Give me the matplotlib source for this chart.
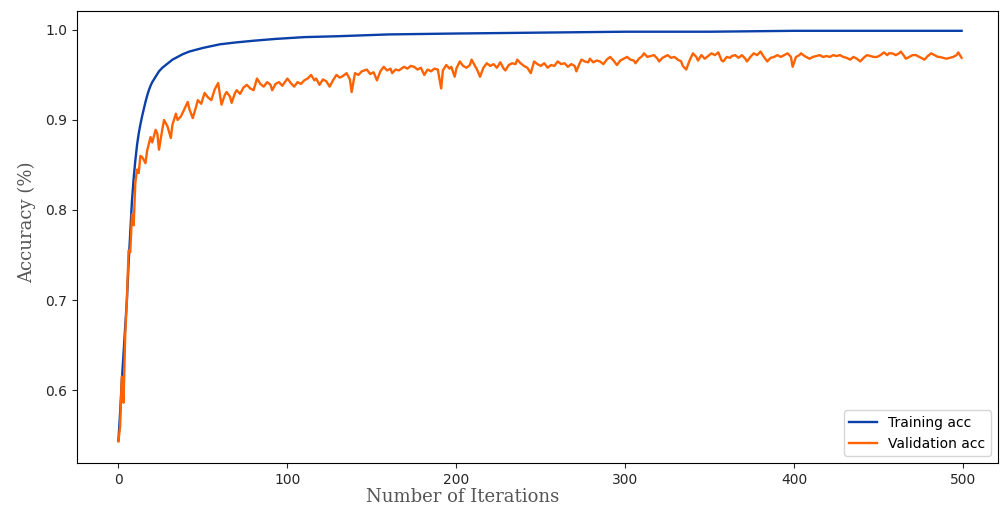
import matplotlib.pyplot as plt

# (iteration, accuracy)
train_points = [
    (0, 0.544), (1, 0.575), (2, 0.61), (3, 0.64), (4, 0.67), (5, 0.70),
    (6, 0.74), (7, 0.775), (8, 0.81), (9, 0.835), (10, 0.855), (11, 0.872),
    (12, 0.885), (13, 0.895), (14, 0.904), (15, 0.912), (16, 0.92),
    (17, 0.927), (18, 0.933), (19, 0.938), (20, 0.942), (21, 0.945),
    (22, 0.948), (23, 0.951), (24, 0.954), (26, 0.958), (28, 0.961),
    (30, 0.964), (32, 0.967), (35, 0.970), (38, 0.973), (42, 0.976),
    (46, 0.978), (50, 0.980), (55, 0.982), (60, 0.984), (69, 0.986),
    (80, 0.988), (93, 0.990), (110, 0.992), (130, 0.993), (160, 0.995),
    (200, 0.996), (250, 0.997), (300, 0.998), (350, 0.998), (400, 0.999),
    (450, 0.999), (499, 0.999),
]

val_points = [
    (0, 0.543), (1, 0.56), (2, 0.615), (3, 0.586), (4, 0.66), (5, 0.70),
    (6, 0.755), (7, 0.753), (8, 0.795), (9, 0.783), (10, 0.83), (11, 0.845),
    (12, 0.841), (13, 0.86), (14, 0.859), (16, 0.852), (17, 0.866),
    (19, 0.881), (20, 0.875), (22, 0.889), (23, 0.885), (24, 0.867),
    (26, 0.89), (27, 0.900), (29, 0.893), (31, 0.880), (32, 0.895),
    (34, 0.907), (35, 0.90), (37, 0.904), (39, 0.912), (41, 0.920),
    (42, 0.912), (44, 0.902), (46, 0.915), (47, 0.922), (49, 0.918),
    (51, 0.930), (53, 0.925), (55, 0.922), (57, 0.934), (59, 0.941),
    (61, 0.917), (63, 0.928), (64, 0.931), (66, 0.926), (67, 0.919),
    (69, 0.930), (70, 0.933), (72, 0.929), (74, 0.936), (76, 0.939),
    (78, 0.935), (80, 0.933), (82, 0.946), (84, 0.940), (86, 0.937),
    (88, 0.942), (90, 0.939), (91, 0.933), (93, 0.940), (95, 0.942),
    (97, 0.938), (100, 0.946), (102, 0.941), (104, 0.937), (106, 0.942),
    (108, 0.940), (110, 0.944), (112, 0.946), (114, 0.950), (116, 0.944),
    (117, 0.946), (119, 0.939), (121, 0.945), (123, 0.943), (125, 0.937),
    (127, 0.944), (129, 0.950), (131, 0.947), (133, 0.949), (135, 0.952),
    (137, 0.945), (138, 0.931), (140, 0.952), (142, 0.950), (144, 0.954),
    (147, 0.956), (149, 0.951), (151, 0.953), (153, 0.944), (155, 0.954),
    (157, 0.959), (159, 0.955), (161, 0.957), (162, 0.952), (164, 0.956),
    (166, 0.955), (169, 0.959), (171, 0.957), (173, 0.960), (175, 0.959),
    (177, 0.956), (179, 0.958), (181, 0.950), (183, 0.956), (185, 0.954),
    (187, 0.957), (189, 0.956), (191, 0.935), (192, 0.955), (194, 0.961),
    (196, 0.957), (197, 0.959), (199, 0.948), (200, 0.957), (202, 0.965),
    (204, 0.960), (206, 0.958), (208, 0.961), (209, 0.967), (211, 0.960),
    (212, 0.957), (214, 0.948), (216, 0.958), (218, 0.963), (220, 0.960),
    (222, 0.962), (224, 0.958), (226, 0.964), (228, 0.957), (229, 0.955),
    (231, 0.961), (233, 0.963), (235, 0.962), (236, 0.967), (238, 0.963),
    (240, 0.960), (242, 0.958), (244, 0.952), (246, 0.965), (248, 0.962),
    (250, 0.960), (252, 0.963), (254, 0.958), (256, 0.961), (258, 0.960),
    (260, 0.965), (262, 0.962), (264, 0.963), (266, 0.959), (268, 0.962),
    (270, 0.960), (271, 0.954), (273, 0.963), (274, 0.967), (276, 0.965),
    (278, 0.964), (279, 0.968), (281, 0.964), (283, 0.966), (285, 0.965),
    (287, 0.962), (289, 0.967), (291, 0.970), (293, 0.966), (295, 0.961),
    (297, 0.966), (299, 0.968), (301, 0.970), (303, 0.967), (305, 0.966),
    (306, 0.963), (308, 0.968), (310, 0.971), (311, 0.974), (313, 0.970),
    (315, 0.971), (317, 0.972), (319, 0.968), (320, 0.965), (322, 0.969),
    (324, 0.971), (325, 0.972), (327, 0.969), (329, 0.970), (331, 0.967),
    (333, 0.965), (334, 0.960), (336, 0.956), (338, 0.966), (340, 0.974),
    (342, 0.970), (343, 0.966), (345, 0.972), (347, 0.968), (349, 0.971),
    (351, 0.974), (353, 0.972), (355, 0.975), (357, 0.966), (358, 0.965),
    (360, 0.970), (362, 0.969), (363, 0.971), (365, 0.972), (367, 0.969),
    (369, 0.972), (371, 0.968), (372, 0.965), (374, 0.970), (376, 0.974),
    (378, 0.972), (380, 0.976), (382, 0.970), (384, 0.965), (386, 0.969),
    (388, 0.970), (390, 0.972), (392, 0.970), (394, 0.972), (396, 0.974),
    (398, 0.970), (399, 0.959), (401, 0.970), (403, 0.972), (404, 0.974),
    (406, 0.971), (408, 0.969), (409, 0.968), (411, 0.970), (413, 0.971),
    (415, 0.972), (417, 0.970), (419, 0.971), (421, 0.970), (423, 0.972),
    (425, 0.971), (427, 0.972), (429, 0.970), (431, 0.969), (433, 0.967),
    (435, 0.970), (437, 0.968), (439, 0.965), (441, 0.969), (443, 0.972),
    (445, 0.971), (447, 0.970), (449, 0.970), (451, 0.972), (453, 0.975),
    (455, 0.972), (456, 0.974), (458, 0.974), (460, 0.972), (462, 0.974),
    (463, 0.976), (465, 0.971), (466, 0.968), (468, 0.970), (470, 0.972),
    (472, 0.972), (474, 0.970), (476, 0.968), (477, 0.967), (479, 0.971),
    (481, 0.974), (483, 0.972), (485, 0.970), (486, 0.970), (488, 0.969),
    (490, 0.968), (492, 0.969), (494, 0.970), (496, 0.972), (497, 0.975),
    (499, 0.969),
]

x_ticks = [0, 100, 200, 300, 400, 500]
y_ticks = [0.6, 0.7, 0.8, 0.9, 1.0]

train_x, train_y = zip(*train_points)
val_x, val_y = zip(*val_points)

fig = plt.figure(figsize=(10.07, 5.12), dpi=100)
ax = fig.add_axes([0.0765, 0.0957, 0.9145, 0.8828])

ax.plot(train_x, train_y, color="#0a40a8", lw=1.7, label="Training acc")
ax.plot(val_x, val_y, color="#ff6200", lw=1.7, label="Validation acc")

ax.set_xlim(-24.5, 520.5)
ax.set_ylim(0.519, 1.021)
ax.set_xticks(x_ticks)
ax.set_yticks(y_ticks)
ax.tick_params(labelsize=10, colors="#262626", labelcolor="#262626")

ax.legend(loc="lower right", fontsize=10)

# axis titles sit off-centre in the original, so place them on the figure
fig.text(463 / 1007, 0.029, "Number of Iterations", ha="center", va="center",
         family="DejaVu Serif", fontsize=13, color="#555555")
fig.text(27 / 1007, 1 - 222 / 512, "Accuracy (%)", ha="center", va="center",
         rotation=90, family="DejaVu Serif", fontsize=13, color="#555555")

fig.savefig("out.png", dpi=100)
